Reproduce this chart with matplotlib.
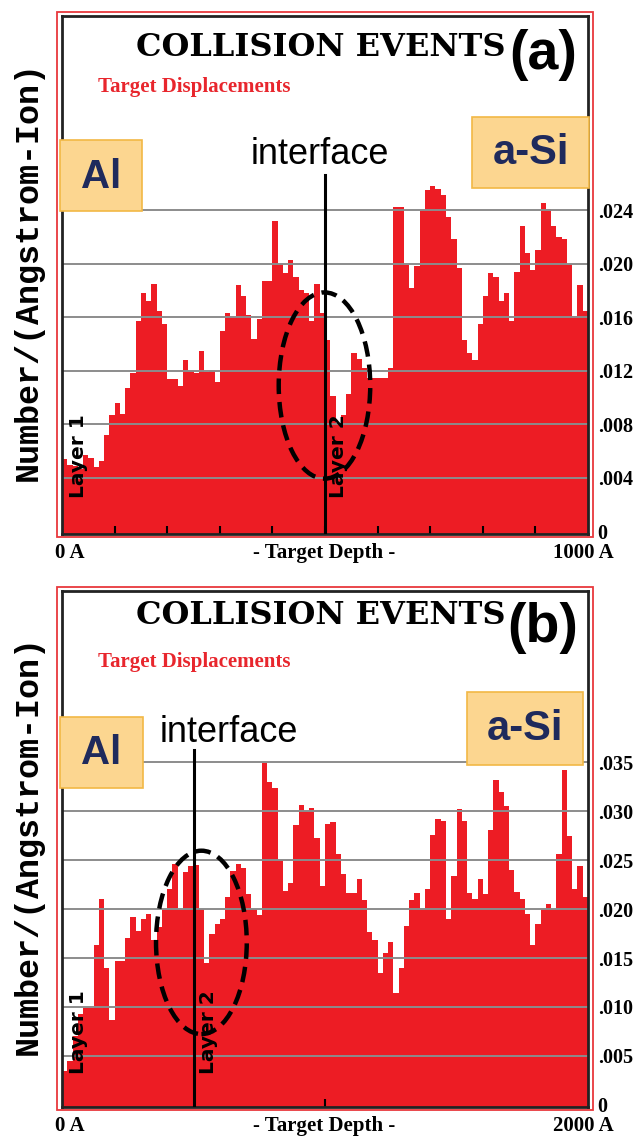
import numpy as np
import matplotlib
matplotlib.use("Agg")
import matplotlib.pyplot as plt
from matplotlib.patches import Rectangle, Ellipse

W, H = 638, 1138

# (a) 0-1000 A target, 100 depth bins of 10 A
depth_a = np.arange(0, 1001, 10)
disp_a = [0.0054, 0.0050, 0.0049, 0.0047, 0.0057, 0.0055, 0.0048, 0.0053, 0.0072, 0.0087,
          0.0096, 0.0088, 0.0107, 0.0118, 0.0157, 0.0178, 0.0172, 0.0185, 0.0165, 0.0155,
          0.0114, 0.0114, 0.0109, 0.0128, 0.0120, 0.0118, 0.0135, 0.0119, 0.0120, 0.0112,
          0.0150, 0.0163, 0.0160, 0.0184, 0.0176, 0.0162, 0.0144, 0.0159, 0.0187, 0.0187,
          0.0232, 0.0200, 0.0193, 0.0203, 0.0190, 0.0180, 0.0178, 0.0157, 0.0185, 0.0163,
          0.0143, 0.0101, 0.0081, 0.0087, 0.0103, 0.0133, 0.0129, 0.0122, 0.0115, 0.0115,
          0.0115, 0.0115, 0.0122, 0.0242, 0.0242, 0.0199, 0.0182, 0.0198, 0.0240, 0.0255,
          0.0258, 0.0256, 0.0251, 0.0235, 0.0218, 0.0197, 0.0143, 0.0133, 0.0128, 0.0155,
          0.0176, 0.0193, 0.0190, 0.0172, 0.0178, 0.0157, 0.0194, 0.0228, 0.0208, 0.0195,
          0.0210, 0.0245, 0.0241, 0.0228, 0.0220, 0.0218, 0.0200, 0.0161, 0.0184, 0.0165]
grid_a = [0.004, 0.008, 0.012, 0.016, 0.020, 0.024]
ticklab_a = [".004", ".008", ".012", ".016", ".020", ".024"]

# (b) 0-2000 A target, 100 depth bins of 20 A
depth_b = np.arange(0, 2001, 20)
disp_b = [0.0035, 0.0045, 0.0070, 0.0093, 0.0099, 0.0099, 0.0163, 0.0210, 0.0140, 0.0087,
          0.0147, 0.0147, 0.0170, 0.0192, 0.0178, 0.0190, 0.0195, 0.0168, 0.0182, 0.0200,
          0.0221, 0.0246, 0.0200, 0.0238, 0.0244, 0.0245, 0.0200, 0.0145, 0.0175, 0.0185,
          0.0190, 0.0212, 0.0239, 0.0246, 0.0242, 0.0215, 0.0200, 0.0194, 0.0349, 0.0330,
          0.0324, 0.0250, 0.0219, 0.0227, 0.0286, 0.0307, 0.0300, 0.0303, 0.0273, 0.0224,
          0.0287, 0.0289, 0.0256, 0.0236, 0.0217, 0.0217, 0.0231, 0.0209, 0.0177, 0.0168,
          0.0135, 0.0155, 0.0166, 0.0114, 0.0140, 0.0183, 0.0209, 0.0216, 0.0200, 0.0221,
          0.0276, 0.0292, 0.0290, 0.0190, 0.0234, 0.0302, 0.0290, 0.0217, 0.0210, 0.0231,
          0.0215, 0.0281, 0.0332, 0.0320, 0.0305, 0.0240, 0.0218, 0.0210, 0.0195, 0.0163,
          0.0185, 0.0200, 0.0205, 0.0200, 0.0256, 0.0342, 0.0275, 0.0221, 0.0244, 0.0212]
grid_b = [0.005, 0.010, 0.015, 0.020, 0.025, 0.030, 0.035]
ticklab_b = [".005", ".010", ".015", ".020", ".025", ".030", ".035"]

interface_depth = 500  # Al / a-Si boundary, A

RED = "#ED1C24"
NAVY = "#1F2A5C"
BOXFACE = "#FCD690"
BOXEDGE = "#F2B845"


def fbox(x0, y0, x1, y1):
    return [x0 / W, 1 - y1 / H, (x1 - x0) / W, (y1 - y0) / H]


def fpt(x, y):
    return x / W, 1 - y / H


fig = plt.figure(figsize=(W / 100, H / 100), dpi=100)


def panel(top, bottom, edges, vals, grid, ticklab, ylim, xticks, xmax_lab,
          iface_top, ell, letter, title_y, letter_y, layer_x2, layer_y):
    ax = fig.add_axes(fbox(62, top, 588, bottom))
    ax.stairs(vals, edges, fill=True, color=RED, baseline=ylim[0], zorder=1)
    for g in grid:
        ax.axhline(g, color="#8c8c8c", lw=1.4, zorder=2)
    ax.set_xlim(edges[0], edges[-1])
    ax.set_ylim(*ylim)
    ax.yaxis.tick_right()
    ax.set_yticks([0] + grid, ["0"] + ticklab, fontfamily="Liberation Serif",
                  fontweight="bold", fontsize=14.5)
    ax.tick_params(axis="y", length=0, pad=7)
    ax.set_xticks(xticks, [""] * len(xticks))
    ax.tick_params(axis="x", direction="in", length=6, width=1.5, color="black")
    for s in ax.spines.values():
        s.set_color("#222222")
        s.set_linewidth(2)

    ax.plot([interface_depth, interface_depth], [ylim[0], iface_top],
            color="black", lw=2.2, zorder=4)
    ax.add_patch(Ellipse(ell[:2], ell[2], ell[3], fill=False, ec="black", lw=3.2,
                         ls=(0, (3.5, 1.8)), zorder=5))

    # outer red frame
    fig.add_artist(Rectangle(fpt(57, bottom + 3), 536 / W, (bottom + 3 - top + 4) / H,
                             transform=fig.transFigure, fill=False, ec="#E8383D", lw=1.3))

    fig.text(*fpt(321, title_y), "COLLISION EVENTS", family="DejaVu Serif",
             weight="bold", fontsize=23, ha="center", va="center")
    fig.text(*fpt(543, letter_y), letter, family="Liberation Sans", weight="bold",
             fontsize=40, ha="center", va="center")
    fig.text(*fpt(98, top + 71), "Target Displacements", family="Liberation Serif",
             weight="bold", fontsize=15, color="#E8262D", ha="left", va="center")

    fig.text(*fpt(55, bottom + 19), "0 A", family="Liberation Serif", weight="bold",
             fontsize=15, ha="left", va="center")
    fig.text(*fpt(324, bottom + 19), "- Target Depth -", family="Liberation Serif",
             weight="bold", fontsize=15, ha="center", va="center")
    fig.text(*fpt(614, bottom + 19), xmax_lab, family="Liberation Serif", weight="bold",
             fontsize=15, ha="right", va="center")

    fig.text(*fpt(28.5, (top + bottom) / 2 - 4), "Number/(Angstrom-Ion)",
             family="Liberation Mono", weight="bold", fontsize=24,
             rotation=90, ha="center", va="center")

    fig.text(*fpt(78, layer_y), "Layer 1", family="DejaVu Sans", weight="bold",
             fontsize=14.5, rotation=90, ha="center", va="center")
    fig.text(*fpt(layer_x2, layer_y), "Layer 2", family="DejaVu Sans", weight="bold",
             fontsize=14.5, rotation=90, ha="center", va="center")
    return ax


ax_a = panel(16, 534, depth_a, disp_a, grid_a, ticklab_a, (-0.00018, 0.03848),
             list(range(100, 1000, 100)), "1000 A", 0.0266,
             (499, 0.0109, 174, 0.0139), "(a)", 48, 55, 338, 456)
ax_b = panel(591, 1107, depth_b, disp_b, grid_b, ticklab_b, (-0.00023, 0.05253),
             [1000], "2000 A", 0.03625,
             (530, 0.0166, 345, 0.01875), "(b)", 616, 628, 209, 1032)


def label_box(x0, y0, x1, y1, txt, size):
    fig.add_artist(Rectangle(fpt(x0, y1), (x1 - x0) / W, (y1 - y0) / H,
                             transform=fig.transFigure, fc=BOXFACE, ec=BOXEDGE, lw=1.2,
                             zorder=3))
    fig.text(*fpt((x0 + x1) / 2, (y0 + y1) / 2 + 1), txt, family="Liberation Sans",
             weight="bold", fontsize=size, color=NAVY, ha="center", va="center", zorder=4)


label_box(60, 140, 142, 211, "Al", 29)
label_box(472, 117, 589, 188, "a-Si", 30)
label_box(60, 717, 143, 788, "Al", 29)
label_box(467, 692, 583, 765, "a-Si", 30)

fig.text(*fpt(320, 154), "interface", family="Liberation Sans", fontsize=26,
         ha="center", va="center")
fig.text(*fpt(229, 733), "interface", family="Liberation Sans", fontsize=26,
         ha="center", va="center")

fig.savefig("out.png", dpi=100)
